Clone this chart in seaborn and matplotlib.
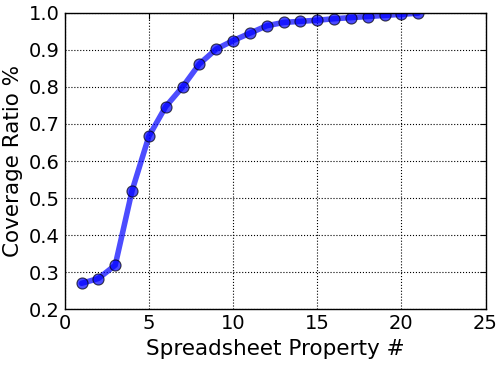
import matplotlib
matplotlib.use("Agg")
import matplotlib.pyplot as plt
import seaborn as sns
import pandas as pd

prop_num = list(range(1, 22))
coverage = [0.270, 0.283, 0.319, 0.520, 0.667, 0.747, 0.800, 0.862, 0.902, 0.925,
            0.945, 0.965, 0.974, 0.977, 0.980, 0.984, 0.987, 0.990, 0.993, 0.996, 0.999]

sns.set_style("white")
plt.rcParams['font.family'] = ['DejaVu Sans']
plt.rcParams.update({
    'xtick.direction': 'in', 'ytick.direction': 'in',
    'xtick.top': True, 'ytick.right': True,
    'xtick.major.size': 4, 'ytick.major.size': 4,
    'text.color': 'black', 'axes.labelcolor': 'black',
})

df = pd.DataFrame({'x': prop_num, 'y': coverage})
fig, ax = plt.subplots(figsize=(4.98, 3.66), dpi=100)
sns.lineplot(data=df, x='x', y='y', ax=ax, color='blue', alpha=0.7, linewidth=4,
             marker='o', markersize=8, markeredgecolor='black', markeredgewidth=0.8)
ax.set_xlim(0, 25)
ax.set_ylim(0.2, 1.0)
ax.set_xticks([0, 5, 10, 15, 20, 25])
ax.set_yticks([0.2, 0.3, 0.4, 0.5, 0.6, 0.7, 0.8, 0.9, 1.0])
ax.set_yticklabels(['0.2', '0.3', '0.4', '0.5', '0.6', '0.7', '0.8', '0.9', '1.0'])
ax.tick_params(labelsize=14, colors='black', labelcolor='black', direction='in', top=True, right=True, length=4)
ax.grid(True, linestyle=':', color='black', linewidth=0.8)
for s in ax.spines.values():
    s.set_color('black')
    s.set_linewidth(1)
ax.set_xlabel('Spreadsheet Property #', fontsize=15.5, color='black')
ax.set_ylabel('Coverage Ratio %', fontsize=15.5, color='black')
fig.subplots_adjust(left=0.13, right=0.975, top=0.965, bottom=0.155)
fig.savefig('out.png', dpi=100)
